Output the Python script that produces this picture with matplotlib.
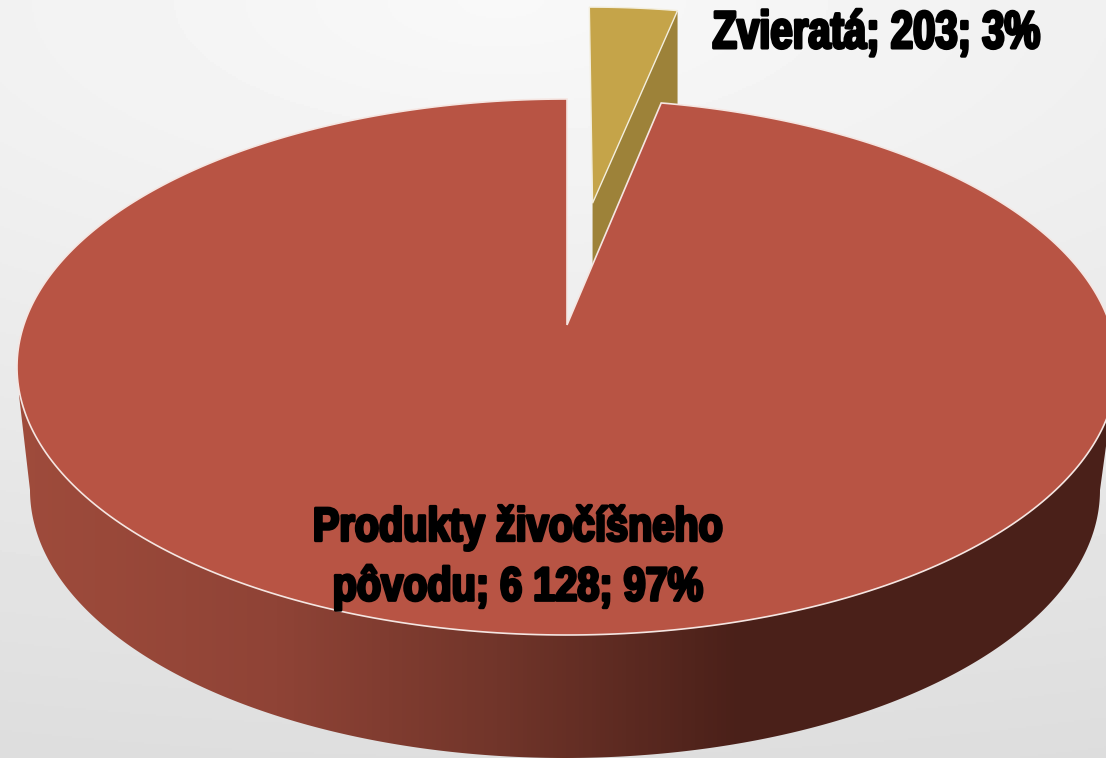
import numpy as np
import matplotlib
matplotlib.use("Agg")
import matplotlib.pyplot as plt
import matplotlib.patheffects as pe
from matplotlib.colors import LinearSegmentedColormap
from matplotlib.patches import Polygon
from matplotlib.transforms import Affine2D

# data
names = ["Zvieratá", "Produkty živočíšneho\npôvodu"]
values = [203, 6128]
value_labels = ["203", "6 128"]
percent_labels = ["3%", "97%"]

# shape of the 3d pie, in pixels
cx, cy = 567, 367
rx, ry = 550, 268
shift = 0.157      # perspective, moves the pie centre up from the ellipse centre
explode = 0.505
low_cx = 565
low_cy = 490
low_rx = 535
gold_depth = 100


class Squeeze(pe.AbstractPathEffect):
    # no condensed heavy font here, so narrow the glyphs and fatten them
    def __init__(self, sx, x0, lw):
        super().__init__()
        self.sx, self.x0, self.lw = sx, x0, lw

    def draw_path(self, renderer, gc, tpath, affine, rgbFace):
        gc0 = renderer.new_gc()
        gc0.copy_properties(gc)
        gc0.set_linewidth(self.lw)
        gc0.set_foreground("black")
        squeeze = Affine2D().translate(-self.x0, 0).scale(self.sx, 1).translate(self.x0, 0)
        renderer.draw_path(gc0, tpath, affine + squeeze, rgbFace)
        gc0.restore()


def project(u, v):
    # unit circle -> ellipse with perspective
    d = 1 + shift * v
    x = cx + rx * u * np.sqrt(1 - shift ** 2) / d
    y = cy - ry * (v + shift) / d
    return x, y


def wedge(start, end, off=0.0):
    mid = np.radians((start + end) / 2)
    a = np.radians(np.linspace(start, end, 400))
    u = np.r_[0, np.sin(a), 0] + off * np.sin(mid)
    v = np.r_[0, np.cos(a), 0] + off * np.cos(mid)
    x, y = project(u, v)
    return np.c_[x, y]


fig = plt.figure(figsize=(11.06, 7.58), dpi=100)
ax = fig.add_axes([0, 0, 1, 1])
ax.set_xlim(0, 1106)
ax.set_ylim(758, 0)
ax.axis("off")

# background
yy, xx = np.mgrid[0:758:2, 0:1106:2]
dist = np.sqrt(((xx - 500) / 2000) ** 2 + (yy / 800) ** 2)
bg = 0.975 - 0.11 * dist
ax.imshow(bg, cmap="gray", vmin=0, vmax=1, extent=[0, 1106, 758, 0], aspect="auto", zorder=0)

angle = 360 * values[0] / sum(values)

# side of the big slice
t = np.radians(np.linspace(180, 360, 300))
low_x = low_cx + low_rx * np.cos(t)
low_y = low_cy - ry * np.sin(t)
side = np.r_[np.c_[low_x, low_y], [[1113, 395], [19, 395]]]
side_patch = Polygon(side, closed=True, fc="none", ec="none", zorder=1)
ax.add_patch(side_patch)
side_cmap = LinearSegmentedColormap.from_list("side", [
    (0.0, "#a04c3c"), (0.25, "#8f4336"), (0.45, "#71352a"), (0.67, "#4a2019"), (1.0, "#4a2019")])
grad = ax.imshow(np.linspace(0, 1, 1106)[None, :], cmap=side_cmap, extent=[0, 1106, 758, 0],
                 aspect="auto", zorder=1)
grad.set_clip_path(side_patch)

# small slice, pulled out
top_gold = wedge(0, angle, explode)
apex = top_gold[0]
corner = top_gold[-2]
gold_side = [apex, corner, corner + [0, gold_depth], apex + [0, gold_depth]]
ax.add_patch(Polygon(gold_side, closed=True, fc="#9d8239", ec="none", zorder=2))
ax.add_patch(Polygon(top_gold, closed=True, fc="#c5a449", ec="#f3eedd", lw=1.0, zorder=3))

# big slice
ax.add_patch(Polygon(wedge(angle, 360), closed=True, fc="#b85444", ec="#f5e6e2", lw=1.2, zorder=4))

# labels
font = dict(family=["Liberation Sans"], weight="bold", color="black",
            ha="center", va="center", zorder=5)
ax.text(876, 34, f"{names[0]}; {value_labels[0]}; {percent_labels[0]}", fontsize=38,
        path_effects=[Squeeze(0.76, 876, 2.2)], **font)
ax.text(518, 558, f"{names[1]}; {value_labels[1]}; {percent_labels[1]}", fontsize=34,
        linespacing=1.42, path_effects=[Squeeze(0.84, 518, 2.2)], **font)

fig.savefig("out.png", dpi=100)
